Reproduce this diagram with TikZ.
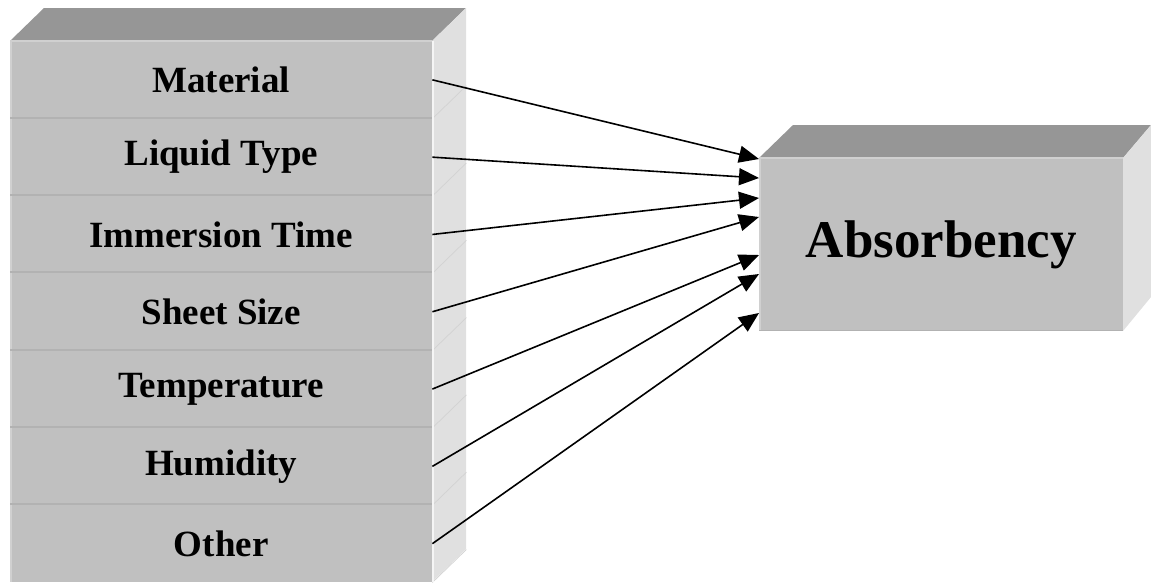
\documentclass[tikz,border=0pt]{standalone}
\usepackage{fontspec}
\setmainfont{Liberation Serif}
\usetikzlibrary{arrows.meta}
\definecolor{frontgray}{HTML}{C0C0C0}
\definecolor{topgray}{HTML}{969696}
\definecolor{sidegray}{HTML}{E0E0E0}
\definecolor{seamgray}{HTML}{B2B2B2}
\definecolor{edgelight}{HTML}{D0D0D0}
\definecolor{diaggray}{HTML}{D2D2D2}
\tikzset{
  factor/.style={fill=frontgray, draw=none, minimum width=422pt, minimum height=77.3pt,
    anchor=north west, inner sep=0pt,
    font=\fontsize{37}{40}\selectfont\bfseries},
  result/.style={fill=frontgray, draw=none, minimum width=364pt, minimum height=173pt,
    anchor=north west, inner sep=0pt,
    font=\fontsize{53}{58}\selectfont\bfseries},
  arr/.style={line width=1.6pt, -{Triangle[length=20pt,width=17pt]}},
}
\begin{document}
\begin{tikzpicture}[x=1pt,y=-1pt]
\useasboundingbox (0,0) rectangle (1151,582);

% stack of factor blocks: top and side faces
\fill[topgray] (10,41) -- (44,8) -- (466,8) -- (432,41) -- cycle;
\fill[sidegray] (432,41) -- (466,8) -- (466,549) -- (432,582) -- cycle;

\foreach \i/\txt in {1/Material,2/Liquid Type,3/Immersion Time,4/Sheet Size,5/Temperature,6/Humidity,7/Other}{
  \pgfmathsetmacro{\ytop}{41+(\i-1)*77.3}
  \node[factor] (f\i) at (10,\ytop) {\txt};
  \draw[edgelight, line width=1.5pt] (f\i.north west) ++(1,0) -- ++(0,77.3);
  \draw[diaggray, line width=0.7pt] (f\i.south east) -- ++(34,-33);
}
\draw[edgelight, line width=1.2pt] (f1.north west) -- (f1.north east);
\foreach \i in {1,...,6}{
  \draw[seamgray, line width=2pt] ([yshift=1pt]f\i.south west) -- ([yshift=1pt]f\i.south east);
}
\draw[white!92!gray, line width=1.2pt] (433,41) -- (433,582);

% result box
\fill[topgray] (759,158) -- (793,125) -- (1151,125) -- (1123,158) -- cycle;
\fill[sidegray] (1123,158) -- (1151,125) -- (1151,297) -- (1123,331) -- cycle;
\node[result] (abs) at (759,158) {Absorbency};
\draw[edgelight, line width=1.5pt] ([xshift=1pt]abs.north west) -- ([xshift=1pt]abs.south west);
\draw[edgelight, line width=1.2pt] (abs.north west) -- (abs.north east);
\draw[seamgray, line width=1.5pt] ([yshift=1pt]abs.south west) -- ([yshift=1pt]abs.south east);

% arrow targets on the result box
\coordinate (t1) at (759,159);
\coordinate (t2) at (759,178);
\coordinate (t3) at (759,198);
\coordinate (t4) at (759,217);
\coordinate (t5) at (759,255);
\coordinate (t6) at (759,274);
\coordinate (t7) at (759,313);

\foreach \i in {1,...,7}{
  \draw[arr] (f\i.east) -- (t\i);
}
\end{tikzpicture}
\end{document}
